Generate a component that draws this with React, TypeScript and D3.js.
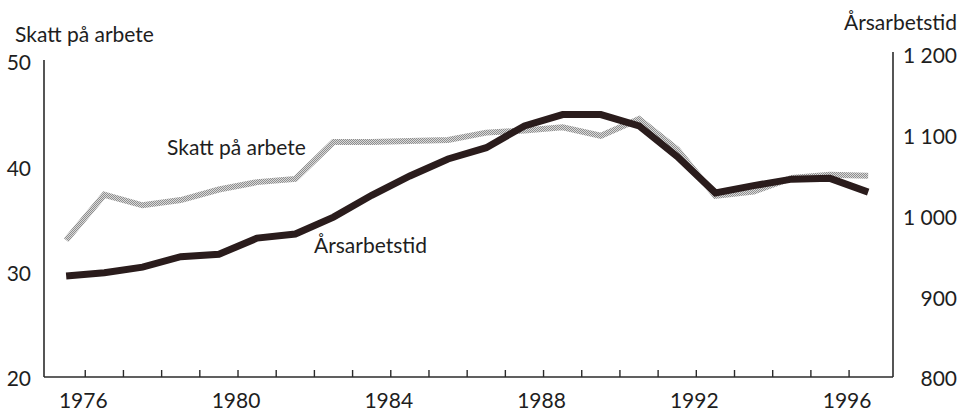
import React, { useEffect, useRef } from "react";
import * as d3 from "d3";

const years = [1975, 1976, 1977, 1978, 1979, 1980, 1981, 1982, 1983, 1984, 1985, 1986, 1987, 1988, 1989, 1990, 1991, 1992, 1993, 1994, 1995, 1996];
const skattPaArbete = [33.0, 37.3, 36.3, 36.8, 37.8, 38.5, 38.8, 42.3, 42.3, 42.4, 42.5, 43.2, 43.4, 43.7, 42.9, 44.5, 41.6, 37.2, 37.6, 38.9, 39.2, 39.1];
const arsarbetstid = [925, 929, 936, 949, 952, 972, 977, 998, 1025, 1049, 1070, 1084, 1111, 1125, 1125, 1111, 1073, 1028, 1037, 1045, 1046, 1029];
const xTickYears = d3.range(1976, 1997);
const xLabelYears = [1976, 1980, 1984, 1988, 1992, 1996];
const leftTicks = [20, 30, 40, 50];
const rightTicks = [800, 900, 1000, 1100, 1200];

const W = 964;
const H = 412;
const FONT = "Lato, 'Open Sans', sans-serif";

export default function App() {
  const ref = useRef<SVGSVGElement>(null);

  useEffect(() => {
    const svg = d3.select(ref.current);
    svg.selectAll("*").remove();

    const x = d3.scaleLinear().domain([1974.92, 1997.15]).range([44, 893]);
    const yL = d3.scaleLinear().domain([20, 50]).range([377, 61]);
    const yR = d3.scaleLinear().domain([800, 1200]).range([377, 54]);

    const defs = svg.append("defs");
    const pat = defs
      .append("pattern")
      .attr("id", "dither")
      .attr("patternUnits", "userSpaceOnUse")
      .attr("width", 2)
      .attr("height", 2);
    pat.append("rect").attr("width", 2).attr("height", 2).attr("fill", "#dadada");
    pat.append("rect").attr("width", 1).attr("height", 1).attr("fill", "#8e8e8e");
    pat.append("rect").attr("x", 1).attr("y", 1).attr("width", 1).attr("height", 1).attr("fill", "#8e8e8e");

    const axisColor = "#2b2b2b";
    const textColor = "#1e1e1e";

    svg.append("line").attr("x1", 44).attr("x2", 44).attr("y1", 60).attr("y2", 377)
      .attr("stroke", axisColor).attr("stroke-width", 1.6);
    svg.append("line").attr("x1", 893).attr("x2", 893).attr("y1", 52).attr("y2", 377)
      .attr("stroke", axisColor).attr("stroke-width", 1.6);
    svg.append("line").attr("x1", 44).attr("x2", 893).attr("y1", 377).attr("y2", 377)
      .attr("stroke", axisColor).attr("stroke-width", 1.6);

    svg.append("g").selectAll("line").data(xTickYears).join("line")
      .attr("x1", (d) => x(d)).attr("x2", (d) => x(d))
      .attr("y1", 377).attr("y2", 370)
      .attr("stroke", axisColor).attr("stroke-width", 1.4);

    svg.append("g").selectAll("text").data(xLabelYears).join("text")
      .attr("x", (d) => x(d) - 2).attr("y", 408)
      .attr("text-anchor", "middle")
      .attr("font-family", FONT).attr("font-size", 21).attr("fill", textColor)
      .text((d) => String(d));

    svg.append("g").selectAll("text").data(leftTicks).join("text")
      .attr("x", 31).attr("y", (d) => yL(d) + 2)
      .attr("dy", "0.35em")
      .attr("text-anchor", "end")
      .attr("font-family", FONT).attr("font-size", 21).attr("fill", textColor)
      .text((d) => String(d));

    const fmt = (v: number) => (v >= 1000 ? `${Math.floor(v / 1000)} ${String(v % 1000).padStart(3, "0")}` : String(v));
    svg.append("g").selectAll("text").data(rightTicks).join("text")
      .attr("x", 957).attr("y", (d) => yR(d) + 2)
      .attr("dy", "0.35em")
      .attr("text-anchor", "end")
      .attr("font-family", FONT).attr("font-size", 21).attr("fill", textColor)
      .text((d) => fmt(d));

    svg.append("text").attr("x", 15).attr("y", 42)
      .attr("font-family", FONT).attr("font-size", 21).attr("fill", textColor)
      .text("Skatt på arbete");
    svg.append("text").attr("x", 957).attr("y", 30).attr("text-anchor", "end")
      .attr("font-family", FONT).attr("font-size", 21).attr("fill", textColor)
      .text("Årsarbetstid");

    const lineL = d3.line<number>()
      .x((_, i) => x(years[i] + 0.5))
      .y((d) => yL(d));
    const lineR = d3.line<number>()
      .x((_, i) => x(years[i] + 0.5))
      .y((d) => yR(d));

    svg.append("path").datum(skattPaArbete)
      .attr("d", lineL)
      .attr("fill", "none")
      .attr("stroke", "url(#dither)")
      .attr("stroke-width", 6)
      .attr("stroke-linejoin", "miter");

    svg.append("path").datum(arsarbetstid)
      .attr("d", lineR)
      .attr("fill", "none")
      .attr("stroke", "#2a1c1c")
      .attr("stroke-width", 7)
      .attr("stroke-linejoin", "miter");

    svg.append("text").attr("x", 167).attr("y", 155)
      .attr("font-family", FONT).attr("font-size", 21).attr("fill", textColor)
      .text("Skatt på arbete");
    svg.append("text").attr("x", 314).attr("y", 253)
      .attr("font-family", FONT).attr("font-size", 21).attr("fill", textColor)
      .text("Årsarbetstid");
  }, []);

  return (
    <svg
      ref={ref}
      width={W}
      height={H}
      style={{ position: "absolute", left: 0, top: 0, background: "#fff" }}
    />
  );
}
